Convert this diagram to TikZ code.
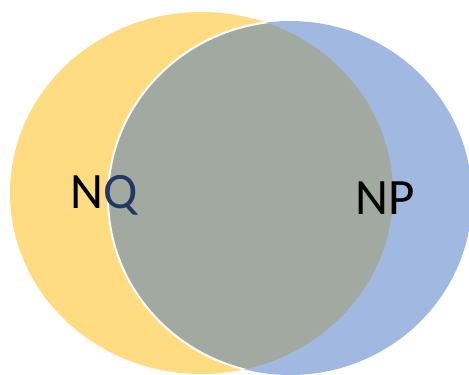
\documentclass[tikz,border=0pt]{standalone}
\usepackage{fontspec}
\setmainfont{Carlito}
\definecolor{yel}{HTML}{FFDC82}
\definecolor{blu}{HTML}{A1B8E1}
\definecolor{gry}{HTML}{A2A9A0}
\definecolor{navy}{HTML}{203864}
\tikzset{lbl/.style={inner sep=0pt, font=\fontsize{51}{56}\selectfont, anchor=base west}}
\begin{document}
\begin{tikzpicture}[x=1pt,y=-1pt]
\useasboundingbox (0,0) rectangle (469,375);
\begin{scope}
\clip (0,0) rectangle (469,375);
\fill[yel] (201.5,193) ellipse [x radius=191.5pt, y radius=181pt];
\fill[blu] (290,198) ellipse [x radius=182pt, y radius=177pt];
\begin{scope}
\clip (201.5,193) ellipse [x radius=191.5pt, y radius=181pt];
\fill[gry] (290,198) ellipse [x radius=182pt, y radius=177pt];
\end{scope}
\begin{scope}
\clip (201.5,193) ellipse [x radius=191.5pt, y radius=181pt];
\draw[white, line width=2pt] (290,198) ellipse [x radius=182pt, y radius=177pt];
\end{scope}
\end{scope}
\node[lbl] (nq) at (70,208.5) {N\textcolor{navy}{Q}};
\node[lbl] (np) at (355,214) {NP};
\end{tikzpicture}
\end{document}
